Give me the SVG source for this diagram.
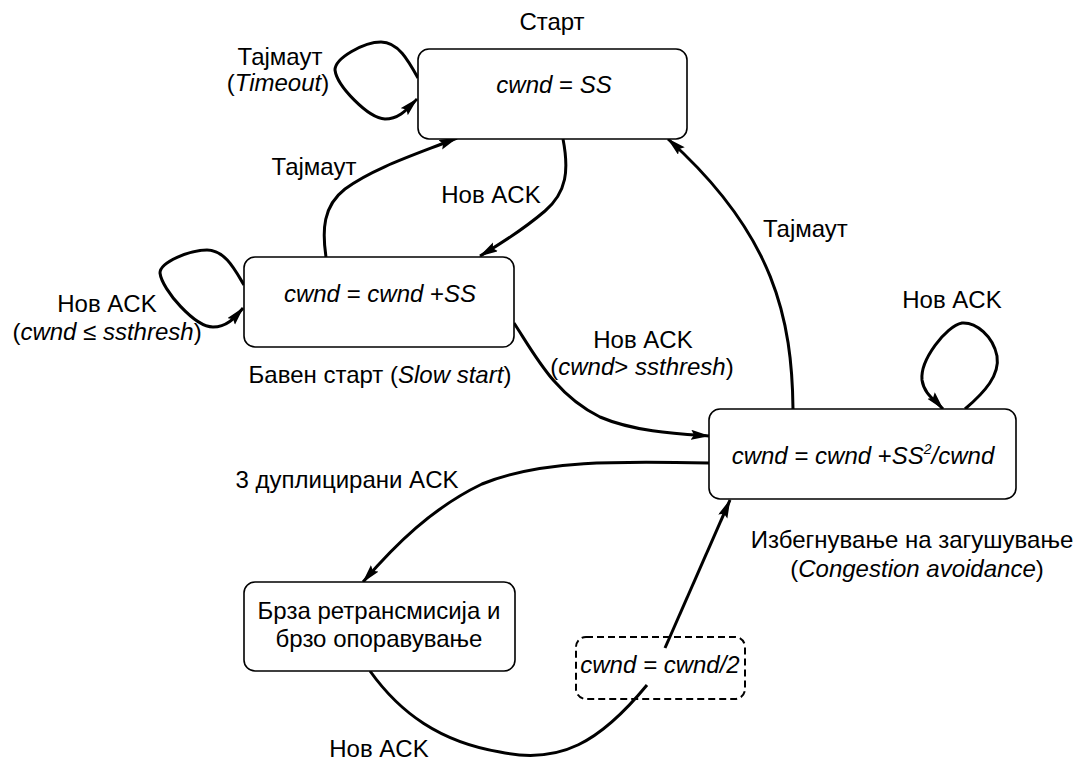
<svg xmlns="http://www.w3.org/2000/svg" width="1082" height="762" viewBox="0 0 1082 762">
  <style>
    text { font-family: "Liberation Sans", Arial, sans-serif; font-size: 24px; fill: #000; }
    .mid { text-anchor: middle; }
    .i { font-style: italic; }
    .box { fill: #fff; stroke: #000; stroke-width: 1.6; }
    .dash { fill: none; stroke: #000; stroke-width: 2; stroke-dasharray: 7 4; }
    .edge { fill: none; stroke: #000; stroke-width: 3; }
    .arr { marker-end: url(#head); }
  </style>
  <defs>
    <marker id="head" markerUnits="userSpaceOnUse" markerWidth="20" markerHeight="12" refX="18" refY="5" orient="auto">
      <path d="M0,0 L19,5 L0,10 L3,5 z" fill="#000"/>
    </marker>
  </defs>

  <!-- transitions -->
  <g id="connectors">
    <!-- start: timeout self-loop -->
    <path class="edge arr" d="M418,78 C408,60 398,42 381,42 C364,42 335,58 335,70 C337,86 368,118 385,119 C400,119 408,108 417,99"/>
    <!-- start -> slow start -->
    <path class="edge arr" d="M563,139 C569,170 567,192 545,211 C525,228 502,243 480,256"/>
    <!-- slow start -> start -->
    <path class="edge arr" d="M326,257 C322,230 323,206 345,189 C375,167 420,153 457,138"/>
    <!-- slow start self-loop -->
    <path class="edge arr" d="M244,285 C235,270 225,250 207,250 C190,250 160,262 160,273 C162,290 195,327 213,327 C228,327 236,316 243,308"/>
    <!-- congestion avoidance -> start -->
    <path class="edge arr" d="M793,409 C792,320 775,235 668,139"/>
    <!-- slow start -> congestion avoidance -->
    <path class="edge arr" d="M514,323 C535,355 555,395 600,417 C635,432 680,434 709,436"/>
    <!-- congestion avoidance self-loop -->
    <path class="edge arr" d="M965,409 C985,392 1000,375 997,356 C993,336 976,322 962,323 C946,326 920,360 922,380 C924,394 935,400 943,409"/>
    <!-- congestion avoidance -> fast retransmit -->
    <path class="edge arr" d="M709,463 C620,461 540,460 482,484 C432,508 395,545 363,582"/>
    <!-- fast retransmit -> congestion avoidance (via window halving) -->
    <path class="edge" d="M370,671 C400,713 440,742 500,752 C560,765 600,742 647,685"/>
    <path class="edge arr" d="M665,648 L730,500"/>
  </g>

  <!-- states -->
  <g id="start">
    <rect class="box" x="418" y="49" width="269" height="90" rx="11"/>
    <text class="mid" x="552" y="30">Старт</text>
    <text class="mid" x="554" y="93"><tspan class="i">cwnd</tspan> = <tspan class="i">SS</tspan></text>
  </g>

  <g id="slow-start">
    <rect class="box" x="244" y="257" width="270" height="90" rx="11"/>
    <text class="mid" x="380" y="302"><tspan class="i">cwnd</tspan> = <tspan class="i">cwnd</tspan> +<tspan class="i">SS</tspan></text>
    <text class="mid" x="380" y="383">Бавен старт (<tspan class="i">Slow start</tspan>)</text>
  </g>

  <g id="congestion-avoidance">
    <rect class="box" x="709" y="409" width="307" height="90" rx="11"/>
    <text class="mid" x="863" y="464"><tspan class="i">cwnd</tspan> = <tspan class="i">cwnd</tspan> +<tspan class="i">SS<tspan font-size="14" dy="-10">2</tspan><tspan dy="10">/cwnd</tspan></tspan></text>
    <text class="mid" x="912" y="548">Избегнување на загушување</text>
    <text class="mid" x="917" y="577">(<tspan class="i">Congestion avoidance</tspan>)</text>
  </g>

  <g id="fast-retransmit">
    <rect class="box" x="244" y="582" width="271" height="89" rx="11"/>
    <text class="mid" x="379" y="619">Брза ретрансмисија и</text>
    <text class="mid" x="379" y="647">брзо опоравување</text>
  </g>

  <g id="halve-window">
    <rect class="dash" x="576" y="637" width="169" height="62" rx="10"/>
    <text class="mid i" x="660" y="673">cwnd = cwnd/2</text>
  </g>

  <!-- transition labels -->
  <g id="labels">
    <text class="mid" x="280" y="65">Тајмаут</text>
    <text class="mid" x="278" y="91">(<tspan class="i">Timeout</tspan>)</text>
    <text class="mid" x="314" y="175">Тајмаут</text>
    <text class="mid" x="491" y="203">Нов ACK</text>
    <text x="763" y="237">Тајмаут</text>
    <text class="mid" x="107" y="312">Нов ACK</text>
    <text class="mid" x="107" y="340">(<tspan class="i">cwnd</tspan> ≤ <tspan class="i">ssthresh</tspan>)</text>
    <text class="mid" x="643" y="348">Нов ACK</text>
    <text class="mid" x="642" y="375">(<tspan class="i">cwnd</tspan>&gt; <tspan class="i">ssthresh</tspan>)</text>
    <text class="mid" x="952" y="308">Нов ACK</text>
    <text class="mid" x="347" y="488">3 дуплицирани ACK</text>
    <text class="mid" x="379" y="757">Нов ACK</text>
  </g>
</svg>
